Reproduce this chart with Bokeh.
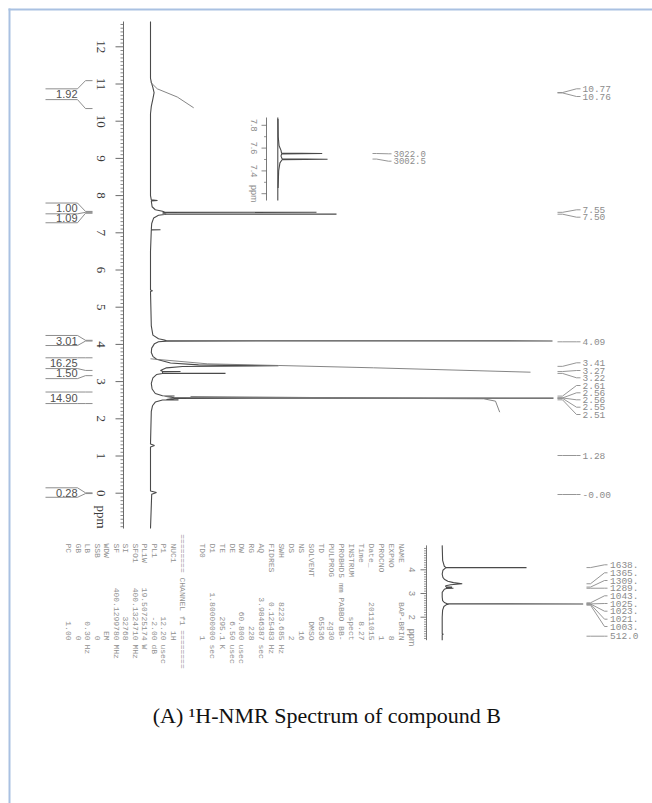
import math
from bokeh.plotting import figure
from bokeh.models import Range1d
from bokeh.core.properties import value
from bokeh.embed import file_html
from bokeh.resources import INLINE

# ================= data =================
# main 1H spectrum trace: chemical shift (ppm) / intensity (arbitrary units)
main_ppm = [12.68, 11.15, 11.05, 10.90, 10.77, 10.60, 10.40, 10.20, 8.00, 7.885, 7.87, 7.855,
            7.70, 7.62, 7.58, 7.556, 7.552, 7.548, 7.53, 7.506, 7.502, 7.498, 7.47, 7.40, 7.25,
            7.085, 7.08, 7.075, 6.50, 5.46, 5.44, 5.42, 4.50, 4.25, 4.15, 4.12, 4.097, 4.093,
            4.089, 4.07, 4.02, 3.90, 3.78, 3.68, 3.60, 3.50, 3.45, 3.425, 3.405, 3.37, 3.30,
            3.276, 3.272, 3.268, 3.226, 3.222, 3.218, 3.19, 3.10, 2.95, 2.80, 2.68, 2.62, 2.612,
            2.605, 2.565, 2.557, 2.549, 2.515, 2.510, 2.505, 2.45, 2.35, 2.20, 1.32, 1.28, 1.24,
            0.06, 0.02, 0.00, -0.03, -0.95]
main_int = [0, 0, 0.2, 0.6, 0.9, 0.6, 0.2, 0, 0, 0.2, 1.75, 0.2,
            0.4, 1.2, 3.0, 3.5, 41.5, 3.5, 3.0, 4.0, 46.5, 4.0, 2.0, 0.8, 0.3,
            0.2, 2.5, 0.2, 0, 0, 0.5, 0, 0.2, 0.6, 2.0, 3.5, 4.0, 100.5,
            4.0, 2.0, 1.0, 0.3, 0.2, 0.6, 1.5, 5.0, 12.0, 32.0, 8.0, 4.0, 2.5,
            3.0, 7.5, 3.0, 3.0, 18.75, 3.0, 1.5, 0.6, 0.2, 0.4, 1.2, 3.0, 6.0,
            3.5, 6.0, 100.75, 6.0, 4.0, 7.0, 3.0, 1.2, 0.5, 0.2, 0, 1.0, 0,
            0, 1.5, 1.0, 0.3, 0]

# integral traces drawn over the spectrum
integ_a_ppm = [11.05, 10.87, 10.65, 10.36]
integ_a_int = [0, 1.7, 6.7, 10.8]
integ_b_ppm = [3.613, 3.478, 3.433, 3.371, 3.253]
integ_b_int = [0, 14.2, 32.0, 55.75, 95.0]
integ_c_ppm = [2.60, 2.545, 2.538, 2.474, 2.178]
integ_c_int = [10.0, 70.0, 83.3, 86.25, 87.3]

# integral values (left) and the ppm of each label
integral_values = ["1.92", "1.00", "1.09", "3.01", "16.25", "1.50", "14.90", "0.28"]
integral_ppm = [10.72, 7.66, 7.39, 4.10, 3.49, 3.22, 2.57, 0.01]
bracket_ppm = [[10.87, 10.58], [7.80, 7.51, 7.27], [4.24, 3.97],
               [3.64, 3.35, 3.08], [2.72, 2.41], [0.145, -0.11]]
bracket_to = [[11.09, 10.34], [7.575, 7.55, 7.525], [4.11, 4.09],
              [3.64, 3.30, 3.16], [2.72, 2.41], [0.01, -0.01]]

# peak picking labels (right)
peak_labels = ["10.77", "10.76", "7.55", "7.50", "4.09", "3.41", "3.27", "3.22",
               "2.61", "2.56", "2.56", "2.55", "2.51", "1.28", "-0.00"]

main_ticks = list(range(0, 13))

# inset 1 (7.8-7.2 ppm expansion) peak labels in Hz
ins1_hz_labels = ["3022.0", "3002.5"]
ins1_ticks = [7.8, 7.6, 7.4]

# inset 2 (processed spectrum 5-1 ppm)
ins2_ppm = [5.03, 4.40, 4.15, 4.10, 4.096, 4.093, 4.090, 4.06, 3.98, 3.82, 3.68, 3.60, 3.52,
            3.46, 3.41, 3.37, 3.33, 3.29, 3.275, 3.27, 3.265, 3.225, 3.22, 3.215, 3.18, 3.05,
            2.85, 2.70, 2.62, 2.57, 2.562, 2.558, 2.554, 2.53, 2.45, 2.30, 2.00, 1.30, 1.28,
            1.26, 1.03]
ins2_int = [0, 0.3, 1.5, 2.5, 3.0, 59.8, 3.0, 2.0, 0.5, 0, 0.5, 1.5, 4.0,
            8.0, 14.2, 6.0, 2.5, 2.5, 3.0, 7.0, 3.0, 3.0, 8.0, 3.0, 1.5, 0,
            0, 0.3, 1.5, 3.5, 5.0, 100.0, 5.0, 3.0, 1.2, 0.3, 0, 0, 0.8,
            0, 0]
ins2_hz_labels = ["1638.", "1365.", "1309.", "1289.", "1043.", "1025.", "1023.", "1021.",
                  "1003.", "512.0"]
ins2_ticks = [4, 3, 2]

# acquisition / processing parameter listing
par1_names = ["NAME", "EXPNO", "PROCNO", "Date_", "Time", "INSTRUM", "PROBHD", "PULPROG", "TD",
              "SOLVENT", "NS", "DS", "SWH", "FIDRES", "AQ", "RG", "DW", "DE", "TE", "D1", "TD0"]
par1_values = ["BAP-BRIN", "8", "1", "20111015", "8.27", "spect", "5 mm PABBO BB-", "zg30",
               "65536", "DMSO", "16", "2", "8223.685", "0.125483", "3.9846387", "228",
               "60.800", "6.50", "295.1", "1.80000000", "1"]
par1_units = ["", "", "", "", "", "", "", "", "", "", "", "", "Hz", "Hz", "sec", "",
              "usec", "usec", "K", "sec", ""]
par_channel = "======== CHANNEL f1 ========"
par2_names = ["NUC1", "P1", "PL1", "PL1W", "SFO1", "SI", "SF", "WDW", "SSB", "LB", "GB", "PC"]
par2_values = ["1H", "12.20", "-2.00", "19.50725174", "400.1324710", "32768", "400.1299780",
               "EM", "0", "0.30", "0", "1.00"]
par2_units = ["", "usec", "dB", "W", "MHz", "", "MHz", "", "", "Hz", "", ""]

caption = "(A)  \u00b9H-NMR Spectrum of compound B"

SF_MHZ = float(par2_values[6])

# ================= layout (page pixel positions -> data) =================
W, H = 652, 803
PX0, PY0, PX1, PY1 = 0, 0, W, H


def lin(p0, v0, p1, v1):
    return lambda q: v0 + (q - p0) * (v1 - v0) / (p1 - p0)


mx = lin(150.0, 0.0, 550.0, 100.0)          # main intensity
my = lin(492.7, 0.0, 46.3, 12.0)            # main ppm
ix1 = lin(277.3, 0.0, 321.7, 41.5)          # inset 1 intensity
iy1 = lin(147.6, 7.6, 170.4, 7.4)           # inset 1 ppm
ix2 = lin(441.7, 0.0, 582.7, 100.0)         # inset 2 intensity
iy2 = lin(569.3, 4.0, 616.7, 2.0)           # inset 2 ppm

LINE = "#4a4a4a"
AXC = "#6a6a6a"
LAB = "#8c8c8c"
PAR = "#909090"
BLUE = "#a9c1e2"

p = figure(width=W, height=H, title=None,
           x_range=Range1d(mx(PX0), mx(PX1)), y_range=Range1d(my(PY1), my(PY0)),
           output_backend="svg", toolbar_location=None,
           x_axis_location=None, y_axis_location=None,
           min_border_left=0, min_border_top=0, min_border_right=0, min_border_bottom=0,
           border_fill_color="white", background_fill_color="white", outline_line_color=None)
p.grid.visible = False
p.extra_x_ranges = {"i1x": Range1d(ix1(PX0), ix1(PX1)), "i2x": Range1d(ix2(PX0), ix2(PX1))}
p.extra_y_ranges = {"i1y": Range1d(iy1(PY1), iy1(PY0)), "i2y": Range1d(iy2(PY1), iy2(PY0))}

I1 = dict(x_range_name="i1x", y_range_name="i1y")
I2 = dict(x_range_name="i2x", y_range_name="i2y")

# page frame (left / top edges)
p.segment(x0=[mx(9), mx(8)], y0=[my(8), my(9)], x1=[mx(9), mx(PX1)], y1=[my(PY1), my(9)],
          line_color=BLUE, line_width=2)

# ---------- main spectrum ----------
p.line(main_int, main_ppm, line_color=LINE, line_width=1.1)
for xs, ys in [(integ_a_int, integ_a_ppm), (integ_b_int, integ_b_ppm), (integ_c_int, integ_c_ppm)]:
    p.line(xs, ys, line_color="#777777", line_width=0.9)

# main ppm axis (left)
ax_x = mx(123)
p.segment(x0=[ax_x], y0=[main_ppm[0]], x1=[ax_x], y1=[main_ppm[-1]], line_color=AXC, line_width=1)
minor = [k / 10 for k in range(-9, 127) if k % 10 != 0]
p.segment(x0=[mx(120)] * len(minor), y0=minor, x1=[ax_x] * len(minor), y1=minor,
          line_color=AXC, line_width=0.8)
p.segment(x0=[mx(115)] * len(main_ticks), y0=main_ticks, x1=[ax_x] * len(main_ticks), y1=main_ticks,
          line_color=AXC, line_width=1)
p.text(x=[mx(100)] * len(main_ticks), y=main_ticks, text=[str(t) for t in main_ticks],
       angle=-math.pi / 2, text_align="center", text_baseline="middle",
       text_font=value("Liberation Sans Narrow"), text_font_size="13px", text_color="#3a3a3a")
p.text(x=[mx(101)], y=[my(516.5)], text=["ppm"], angle=-math.pi / 2, text_align="center",
       text_baseline="middle", text_font=value("Liberation Sans Narrow"), text_font_size="13px",
       text_color="#3a3a3a")

# integrals (left)
bx, by = [], []
for lines, targets in zip(bracket_ppm, bracket_to):
    for lv, tv in zip(lines, targets):
        bx.append([mx(45), mx(77), mx(85), mx(92)])
        by.append([lv, lv, tv, tv])
p.multi_line(bx, by, line_color="#808080", line_width=0.9)
p.text(x=[mx(77)] * len(integral_values), y=integral_ppm, text=integral_values,
       text_align="right", text_baseline="middle", text_font=value("Liberation Sans"),
       text_font_size="11px", text_color="#505050")

# peak labels (right)
slots = [88.3, 96.0, 209.3, 216.7, 341.3, 362.3, 370.0, 377.3, 385.0, 392.3, 399.3, 406.7,
         414.0, 455.0, 494.0]
single = {"4.09", "1.28", "-0.00"}
lx, ly = [], []
for lab, s in zip(peak_labels, slots):
    pv = my(s) if lab in single else float(lab)
    lx.append([mx(557), mx(562), mx(576), mx(580)])
    ly.append([pv, pv, my(s), my(s)])
p.multi_line(lx, ly, line_color="#8a8a8a", line_width=0.9)
p.text(x=[mx(582)] * len(peak_labels), y=[my(s) for s in slots], text=peak_labels,
       text_align="left", text_baseline="middle", text_font=value("Liberation Mono"),
       text_font_size="9.5px", text_color=LAB)

# ---------- inset 1 : 7.55 / 7.50 expansion ----------
lo1, hi1 = iy1(200), iy1(117)
sel = [(a, b) for a, b in zip(main_ppm, main_int) if lo1 <= a <= hi1]
p.line([b for a, b in sel], [a for a, b in sel], line_color=LINE, line_width=1.1, **I1)
p.segment(x0=[0], y0=[hi1], x1=[0], y1=[lo1], line_color=LINE, line_width=1.1, **I1)
a1x = ix1(266)
p.segment(x0=[a1x], y0=[hi1], x1=[a1x], y1=[lo1], line_color=AXC, line_width=0.9, **I1)
t1 = ins1_ticks + [7.2]
p.segment(x0=[ix1(261)] * len(t1), y0=t1, x1=[a1x] * len(t1), y1=t1, line_color=AXC,
          line_width=0.8, **I1)
m1 = [7.7, 7.5, 7.3]
p.segment(x0=[ix1(263.5)] * len(m1), y0=m1, x1=[a1x] * len(m1), y1=m1, line_color=AXC,
          line_width=0.7, **I1)
p.text(x=[ix1(253)] * 4, y=t1, text=[f"{t:.1f}" for t in ins1_ticks] + ["ppm"],
       angle=-math.pi / 2, text_align="center", text_baseline="middle",
       text_font=value("Liberation Sans"), text_font_size="9px", text_color=LAB, **I1)
s1 = [153.3, 160.7]
l1x, l1y = [], []
for lab, s in zip(ins1_hz_labels, s1):
    pv = float(lab) / SF_MHZ
    l1x.append([ix1(372), ix1(376), ix1(388), ix1(391)])
    l1y.append([pv, pv, iy1(s), iy1(s)])
p.multi_line(l1x, l1y, line_color="#8a8a8a", line_width=0.9, **I1)
p.text(x=[ix1(393)] * 2, y=[iy1(s) for s in s1], text=ins1_hz_labels, text_align="left",
       text_baseline="middle", text_font=value("Liberation Mono"), text_font_size="9px",
       text_color=LAB, **I1)

# ---------- inset 2 : processed spectrum ----------
p.line(ins2_int, ins2_ppm, line_color=LINE, line_width=1.1, **I2)
a2x = ix2(426)
p.segment(x0=[a2x], y0=[ins2_ppm[0]], x1=[a2x], y1=[ins2_ppm[-1]], line_color=AXC,
          line_width=0.9, **I2)
m2 = [k / 10 for k in range(11, 51) if k % 10 != 0]
p.segment(x0=[ix2(423.5)] * len(m2), y0=m2, x1=[a2x] * len(m2), y1=m2, line_color=AXC,
          line_width=0.7, **I2)
p.segment(x0=[ix2(420)] * len(ins2_ticks), y0=ins2_ticks, x1=[a2x] * len(ins2_ticks),
          y1=ins2_ticks, line_color=AXC, line_width=0.9, **I2)
p.text(x=[ix2(411.7)] * 4, y=ins2_ticks + [iy2(637)], text=[str(t) for t in ins2_ticks] + ["ppm"],
       angle=-math.pi / 2, text_align="center", text_baseline="middle",
       text_font=value("Liberation Sans"), text_font_size="9px", text_color=LAB, **I2)
s2 = [564.3, 572.3, 580.0, 587.7, 595.3, 603.0, 610.7, 618.7, 626.0, 635.7]
l2x, l2y = [], []
for lab, s in zip(ins2_hz_labels, s2):
    pv = iy2(s) if lab == "512.0" else float(lab) / SF_MHZ
    l2x.append([ix2(586), ix2(590), ix2(604), ix2(607)])
    l2y.append([pv, pv, iy2(s), iy2(s)])
p.multi_line(l2x, l2y, line_color="#8a8a8a", line_width=0.9, **I2)
p.text(x=[ix2(609.5)] * len(s2), y=[iy2(s) for s in s2], text=ins2_hz_labels,
       text_align="left", text_baseline="middle", text_font=value("Liberation Mono"),
       text_font_size="9.5px", text_color=LAB, **I2)

# ---------- parameter listing (rotated) ----------
PF = value("Liberation Mono")
PS = "8px"
c1 = [mx(401 - i * 9.97) for i in range(len(par1_names))]
c2 = [mx(172.7 - i * 9.5) for i in range(len(par2_names))]
cols = c1 + c2
names = par1_names + par2_names
vals = par1_values + par2_values
units = par1_units + par2_units
common = dict(angle=-math.pi / 2, text_baseline="middle", text_font=PF, text_font_size=PS,
              text_color=PAR)
p.text(x=cols, y=[my(543)] * len(cols), text=names, text_align="left", **common)
p.text(x=cols, y=[my(640)] * len(cols), text=vals, text_align="right", **common)
ux = [c for c, u in zip(cols, units) if u]
uu = [u for u in units if u]
p.text(x=ux, y=[my(644)] * len(ux), text=uu, text_align="left", **common)
p.text(x=[mx(181.5)], y=[my(601)], text=[par_channel], text_align="center", **common)

# ---------- caption ----------
p.text(x=[mx(329)], y=[my(715)], text=[caption], text_align="center", text_baseline="middle",
       text_font=value("Liberation Serif"), text_font_size="22px", text_color="#111111")

open("out.html", "w").write(file_html(p, INLINE))
